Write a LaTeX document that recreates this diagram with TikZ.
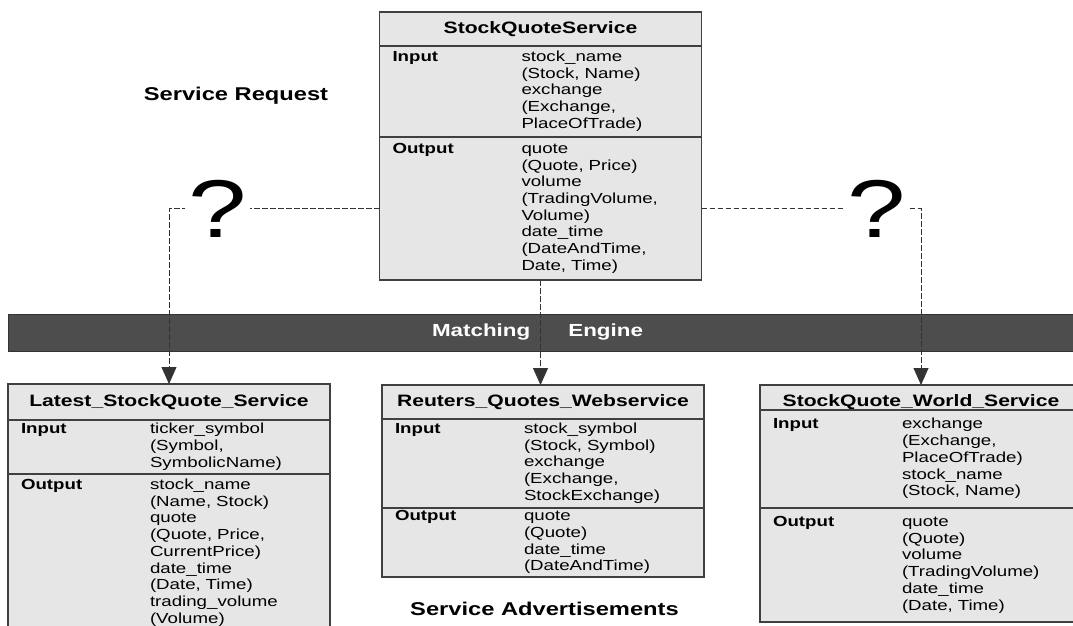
\documentclass[tikz,border=0pt]{standalone}
\usepackage{fontspec}
\setmainfont{Liberation Sans}[FakeStretch=1.28]
\usetikzlibrary{positioning,arrows.meta}
\definecolor{boxfill}{HTML}{E6E6E6}
\definecolor{boxline}{HTML}{404040}
\definecolor{barfill}{HTML}{4D4D4D}
\newcommand{\bodyfont}{\fontsize{14.6}{16.7}\selectfont}
\newcommand{\titlefont}{\fontsize{16.5}{19}\selectfont\bfseries}
\newcommand{\headfont}{\fontsize{18.5}{22}\selectfont\bfseries}
\newcommand{\rowtab}[2]{\begin{tabular}{@{}p{129pt}@{}l@{}}\textbf{#1} & \begin{tabular}[t]{@{}l@{}}#2\end{tabular}\end{tabular}}

\begin{document}
\begin{tikzpicture}[x=1pt,y=-1pt,
          svctitle/.style={draw=boxline,fill=boxfill,line width=1.2pt,outer sep=0pt,
            minimum width=322pt,inner sep=0pt,font=\titlefont,anchor=north},
          svcrow/.style={draw=boxline,fill=boxfill,line width=1.2pt,outer sep=0pt,
            text width=296pt,inner xsep=13pt,inner ysep=0pt,align=left,font=\bodyfont},
          probe/.style={draw=black!80,line width=0.8pt,dash pattern=on 5.5pt off 2.5pt,
            -{Triangle[width=15pt,length=17pt]}},
          query/.style={fill=white,inner xsep=3pt,inner ysep=0pt,anchor=base,
            font=\fontsize{82}{82}\selectfont},
        ]
        \useasboundingbox (0,0) rectangle (1073,626);

        % requested service
        \node[svctitle,minimum height=34pt] (sqs) at (540.5,12) {StockQuoteService};
        \node[svcrow,minimum height=91pt,below=0pt of sqs] (sqsin)
          {\rowtab{Input}{stock\_name\\(Stock, Name)\\exchange\\(Exchange,\\PlaceOfTrade)}};
        \node[svcrow,minimum height=143pt,below=0pt of sqsin] (sqsout)
          {\rowtab{Output}{quote\\(Quote, Price)\\volume\\(TradingVolume,\\Volume)\\date\_time\\(DateAndTime,\\Date, Time)}};
        \node[font=\headfont,anchor=base] (request) at (236,100) {Service Request};

        % matching engine
        \node[fill=barfill,draw=black!80,line width=0.8pt,minimum width=1075pt,minimum height=37pt,
          inner sep=0pt,anchor=north west] (engine) at (8,314) {};
        \node[font=\fontsize{17.5}{20}\selectfont\bfseries,text=white] (enginelabel) at (537.5,332.5)
          {Matching\hspace{38pt}Engine};

        % advertised services
        \node[svctitle,minimum height=36pt] (lsq) at (169,384) {Latest\_StockQuote\_Service};
        \node[svcrow,minimum height=54pt,below=0pt of lsq] (lsqin)
          {\rowtab{Input}{ticker\_symbol\\(Symbol,\\SymbolicName)}};
        \node[svcrow,minimum height=158pt,below=0pt of lsqin] (lsqout)
          {\rowtab{Output}{stock\_name\\(Name, Stock)\\quote\\(Quote, Price,\\CurrentPrice)\\date\_time\\(Date, Time)\\trading\_volume\\(Volume)}};

        \node[svctitle,minimum height=34pt] (rqw) at (543,385) {Reuters\_Quotes\_Webservice};
        \node[svcrow,minimum height=89pt,below=0pt of rqw] (rqwin)
          {\rowtab{Input}{stock\_symbol\\(Stock, Symbol)\\exchange\\(Exchange,\\StockExchange)}};
        \node[svcrow,minimum height=69pt,below=0pt of rqwin] (rqwout)
          {\rowtab{Output}{quote\\(Quote)\\date\_time\\(DateAndTime)}};
        \node[font=\headfont,anchor=base] (adverts) at (544.5,615) {Service Advertisements};

        \node[svctitle,minimum height=25pt,text height=18pt,text depth=0pt] (sqw) at (921,385) {StockQuote\_World\_Service};
        \node[svcrow,minimum height=98pt,below=0pt of sqw] (sqwin)
          {\rowtab{Input}{exchange\\(Exchange,\\PlaceOfTrade)\\stock\_name\\(Stock, Name)}};
        \node[svcrow,minimum height=114pt,below=0pt of sqwin] (sqwout)
          {\rowtab{Output}{quote\\(Quote)\\volume\\(TradingVolume)\\date\_time\\(Date, Time)}};

        % candidate matches
        \draw[probe] (sqsout.west) -| (lsq.north);
        \draw[probe] (sqsout.east) -| (sqw.north);
        \draw[probe] (sqsout.south) -- (sqsout.south |- rqw.north);
        \node[query] (qleft) at (217.5,237) {?};
        \node[query] (qright) at (876.5,237) {?};
\end{tikzpicture}
\end{document}
